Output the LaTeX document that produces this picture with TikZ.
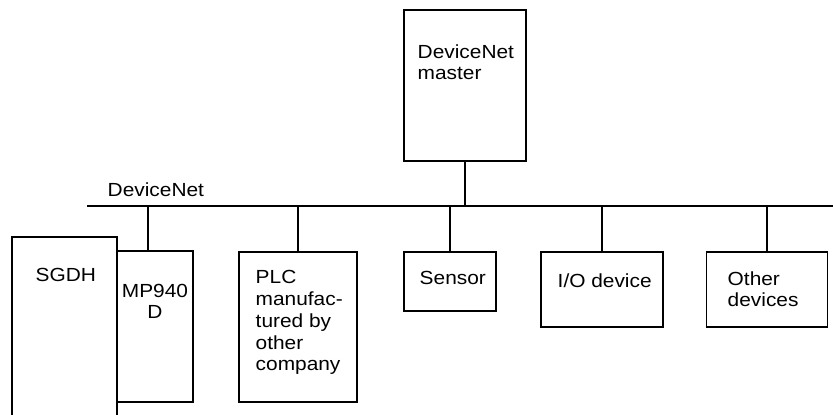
\documentclass[tikz,border=0pt]{standalone}
\usepackage{fontspec}
\setmainfont{Liberation Sans}

\begin{document}
\begin{tikzpicture}[x=0.02cm,y=-0.02cm,line width=0.75pt,
  unit/.style={draw,rectangle,inner sep=0pt},
  lbl/.style={font=\fontsize{10.8}{12.5}\selectfont,inner sep=0pt,xscale=1.1,align=left,anchor=base west}]
\clip (0,0) rectangle (833,415);
% ---- units on the network ----
\node[unit,minimum width=2.44cm,minimum height=3.02cm] (master) at (465,85.5) {};
\node[unit,minimum width=2.10cm,minimum height=3.86cm] (sgdh) at (64.5,333.5) {};
\node[unit,minimum width=1.52cm,minimum height=3.02cm] (mp) at (155,326.5) {};
\node[unit,minimum width=2.36cm,minimum height=3.00cm] (plc) at (298,327) {};
\node[unit,minimum width=1.84cm,minimum height=1.18cm] (sensor) at (450,281.5) {};
\node[unit,minimum width=2.44cm,minimum height=1.50cm] (io) at (602,289.5) {};
\node[unit,minimum width=2.42cm,minimum height=1.50cm] (other) at (767,289.5) {};
% ---- bus line ----
\coordinate (busL) at (87,206);
\coordinate (busR) at (833,206);
\draw (busL) -- (busR);
% ---- drops to the bus ----
\draw (master.south) -- (master.south |- busL);
\draw ([xshift=-0.14cm]mp.north) -- ([xshift=-0.14cm]mp.north |- busL);
\foreach \n in {plc,sensor,io,other}
  \draw (\n.north) -- (\n.north |- busL);
% ---- texts (anchored at the baseline of the last line) ----
\node[lbl] (busname) at (107,197) {DeviceNet};
\node[lbl] (mastertxt) at (417,80) {DeviceNet\\master};
\node[lbl] (sgdhtxt) at (35,282) {SGDH};
\node[lbl,align=center,anchor=base] (mptxt) at (155,319) {MP940\\D};
\node[lbl] (plctxt) at (255,371) {PLC\\manufac-\\tured by\\other\\company};
\node[lbl] (sensortxt) at (419,285) {Sensor};
\node[lbl] (iotxt) at (557,288) {I/O device};
\node[lbl] (othertxt) at (727,307) {Other\\devices};
\end{tikzpicture}
\end{document}
